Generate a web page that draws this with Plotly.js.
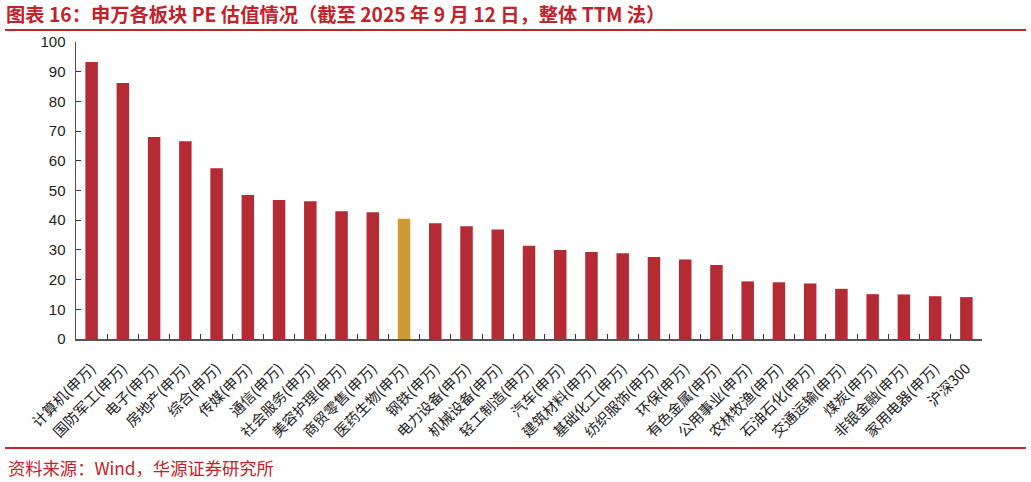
<!DOCTYPE html>
<html>
<head>
<meta charset="utf-8">
<script src="https://cdn.plot.ly/plotly-3.0.1.min.js"></script>
<style>
  body { margin: 0; background: #fff; }
  #chart { width: 1031px; height: 482px; }
</style>
</head>
<body>
<div id="chart"></div>
<script>
// 申万一级行业 PE(TTM)，截至 2025-09-12
const sectors = [
    '计算机(申万)', '国防军工(申万)', '电子(申万)', '房地产(申万)', '综合(申万)',
    '传媒(申万)', '通信(申万)', '社会服务(申万)', '美容护理(申万)', '商贸零售(申万)',
    '医药生物(申万)', '钢铁(申万)', '电力设备(申万)', '机械设备(申万)', '轻工制造(申万)',
    '汽车(申万)', '建筑材料(申万)', '基础化工(申万)', '纺织服饰(申万)', '环保(申万)',
    '有色金属(申万)', '公用事业(申万)', '农林牧渔(申万)', '石油石化(申万)', '交通运输(申万)',
    '煤炭(申万)', '非银金融(申万)', '家用电器(申万)', '沪深300'
];
const pe_ttm = [
    93.3, 86.2, 68.0, 66.6, 57.5,
    48.5, 46.8, 46.4, 43.0, 42.7,
    40.5, 39.0, 38.0, 36.9, 31.4,
    30.0, 29.3, 28.9, 27.6, 26.8,
    24.9, 19.4, 19.1, 18.7, 16.9,
    15.1, 15.0, 14.4, 14.1
];
const highlight = '医药生物(申万)';

const bar_colors = [];
for (let i = 0; i < sectors.length; i++) {
    bar_colors.push(sectors[i] === highlight ? '#CF9A30' : '#B52B33');
}

const cjk = '"Noto Sans CJK SC", "Liberation Sans", sans-serif';

var trace = {
    x : sectors,
    y : pe_ttm,
    type : 'bar',
    marker : { color : bar_colors, line : { width : 0 } },
    hoverinfo : 'x+y'
};

// pixel -> paper helpers (plot area 76..982 x, 42..339 y)
const px = (p) => (p - 76) / 906;
const py = (p) => (339 - p) / 297;

var layout = {
    width : 1031,
    height : 482,
    margin : { l : 76, r : 49, t : 42, b : 143 },
    paper_bgcolor : '#fff',
    plot_bgcolor : '#fff',
    showlegend : false,
    bargap : 0.6,
    title : {
        text : '图表 16：申万各板块 PE 估值情况（截至 2025 年 9 月 12 日，整体 TTM 法）',
        font : { family : cjk, size : 19.3, color : '#C0232C', weight : 'bold' },
        x : 6 / 1031, xref : 'container', xanchor : 'left',
        y : 1 - 15 / 482, yref : 'container', yanchor : 'middle'
    },
    xaxis : {
        type : 'category',
        showline : true,
        linecolor : '#555',
        linewidth : 1.5,
        ticks : 'inside',
        tickson : 'boundaries',
        ticklen : 5,
        tickcolor : '#333',
        tickangle : -45,
        ticklabelstandoff : 14,
        tickfont : { family : cjk, size : 14.5, color : '#222' },
        showgrid : false,
        zeroline : false
    },
    yaxis : {
        range : [0, 100],
        dtick : 10,
        showline : true,
        linecolor : '#555',
        linewidth : 1.5,
        ticks : 'inside',
        ticklen : 5,
        tickcolor : '#333',
        ticklabelstandoff : 6,
        tickfont : { family : '"Liberation Sans", Arial, sans-serif', size : 15, color : '#222' },
        showgrid : false,
        zeroline : false
    },
    shapes : [
        { type : 'line', xref : 'paper', yref : 'paper', x0 : px(5), x1 : px(1026), y0 : py(30), y1 : py(30),
          line : { color : '#C0282E', width : 2 } },
        { type : 'line', xref : 'paper', yref : 'paper', x0 : px(5), x1 : px(1026), y0 : py(448), y1 : py(448),
          line : { color : '#C0282E', width : 2 } }
    ],
    annotations : [
        { text : '资料来源：Wind，华源证券研究所', xref : 'paper', yref : 'paper',
          x : px(6), y : py(467), xanchor : 'left', yanchor : 'middle', showarrow : false,
          font : { family : cjk, size : 17.3, color : '#C0232C' } }
    ]
};

Plotly.newPlot('chart', [trace], layout, { displayModeBar : false, staticPlot : true });
</script>
</body>
</html>
